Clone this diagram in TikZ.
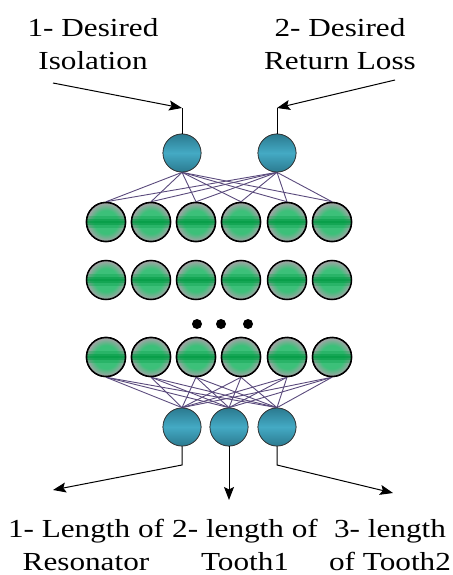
\documentclass[tikz,border=0pt]{standalone}
\usepackage{fontspec}
\setmainfont{Liberation Serif}[FakeStretch=1.2]
\usetikzlibrary{arrows.meta}
\definecolor{ggray}{HTML}{A8A2A8}
\definecolor{glight}{HTML}{3CC079}
\definecolor{gdark}{HTML}{009A42}
\definecolor{btop}{HTML}{2B7A90}
\definecolor{bmid}{HTML}{44AAC4}
\definecolor{linkc}{HTML}{5A4A7C}
\pgfdeclareradialshading{greenrad}{\pgfpointorigin}{color(0bp)=(glight); color(15bp)=(glight); color(25bp)=(ggray); color(50bp)=(ggray)}
\pgfdeclareverticalshading{blueball}{100bp}{color(0bp)=(btop); color(25bp)=(btop); color(50bp)=(bmid); color(75bp)=(btop); color(100bp)=(btop)}
\tikzset{
  greennode/.style={circle, minimum size=39pt, inner sep=0pt, draw=black, line width=1.5pt, shading=greenrad,
    path picture={
      \fill[gdark, opacity=0.3] ([yshift=-6pt]path picture bounding box.west) rectangle ([yshift=6pt]path picture bounding box.east);
      \fill[gdark, opacity=0.5] ([yshift=-3pt]path picture bounding box.west) rectangle ([yshift=3pt]path picture bounding box.east);
      \fill[gdark, opacity=0.5] ([yshift=-1.2pt]path picture bounding box.west) rectangle ([yshift=1.2pt]path picture bounding box.east);
    }},
  bluenode/.style={circle, minimum size=38pt, inner sep=0pt, draw=black!80, line width=0.7pt, shading=blueball},
  link/.style={draw=linkc, line width=0.9pt},
  arr/.style={draw=black, line width=1pt, -{Stealth[length=13pt,width=10pt,inset=2.5pt]}},
  plain/.style={draw=black, line width=1pt},
  lbl/.style={align=center, inner sep=0pt, font=\fontsize{26}{33}\selectfont},
  dotnode/.style={circle, fill=black, minimum size=10pt, inner sep=0pt}
}
\begin{document}
\begin{tikzpicture}[x=1pt,y=-1pt]
\useasboundingbox (0,0) rectangle (452,575);
% input nodes
\node[bluenode] (in1) at (182,153) {};
\node[bluenode] (in2) at (277,153) {};
% hidden layers
\foreach \i/\x in {1/106,2/151,3/196,4/241,5/287,6/332} {
  \node[greennode] (ha\i) at (\x,222) {};
  \node[greennode] (hb\i) at (\x,280) {};
  \node[greennode] (hc\i) at (\x,357) {};
}
% dots
\node[dotnode] (d1) at (197,324) {};
\node[dotnode] (d2) at (221,324) {};
\node[dotnode] (d3) at (248,324) {};
% output nodes
\node[bluenode] (out1) at (182,427) {};
\node[bluenode] (out2) at (229,427) {};
\node[bluenode] (out3) at (277,427) {};
% links
\foreach \j in {1,...,6} {
  \foreach \k in {in1,in2} { \draw[link] (\k.south) -- (ha\j.north); }
  \foreach \k in {out1,out2,out3} { \draw[link] (hc\j.south) -- (\k.north); }
}
% redraw nodes on top of links
\node[bluenode] at (in1) {};
\node[bluenode] at (in2) {};
\foreach \i/\x in {1/106,2/151,3/196,4/241,5/287,6/332} {
  \node[greennode] at (\x,222) {};
  \node[greennode] at (\x,357) {};
}
\node[bluenode] at (out1) {};
\node[bluenode] at (out2) {};
\node[bluenode] at (out3) {};
% labels
\node[lbl] (t1) at (93,44) {1- Desired\\Isolation};
\node[lbl] (t2) at (340,44) {2- Desired\\Return Loss};
\node[lbl] (b1) at (86,545) {1- Length of\\Resonator};
\node[lbl] (b2) at (245,545) {2- length of\\Tooth1};
\node[lbl] (b3) at (390,545) {3- length\\of Tooth2};
% arrows in
\coordinate (c1) at (182,108);
\coordinate (c2) at (277,108);
\coordinate (s1) at (53,83);
\coordinate (s2) at (395,80);
\draw[plain] (in1.north) -- (c1);
\draw[plain] (in2.north) -- (c2);
\draw[arr] (s1) -- (c1);
\draw[arr] (s2) -- (c2);
% arrows out
\coordinate (e1) at (182,465);
\coordinate (e3) at (277,465);
\coordinate (f1) at (53,490);
\coordinate (f2) at (229,500);
\coordinate (f3) at (393,493);
\draw[arr] (out1.south) -- (e1) -- (f1);
\draw[arr] (out2.south) -- (f2);
\draw[arr] (out3.south) -- (e3) -- (f3);
\end{tikzpicture}
\end{document}
